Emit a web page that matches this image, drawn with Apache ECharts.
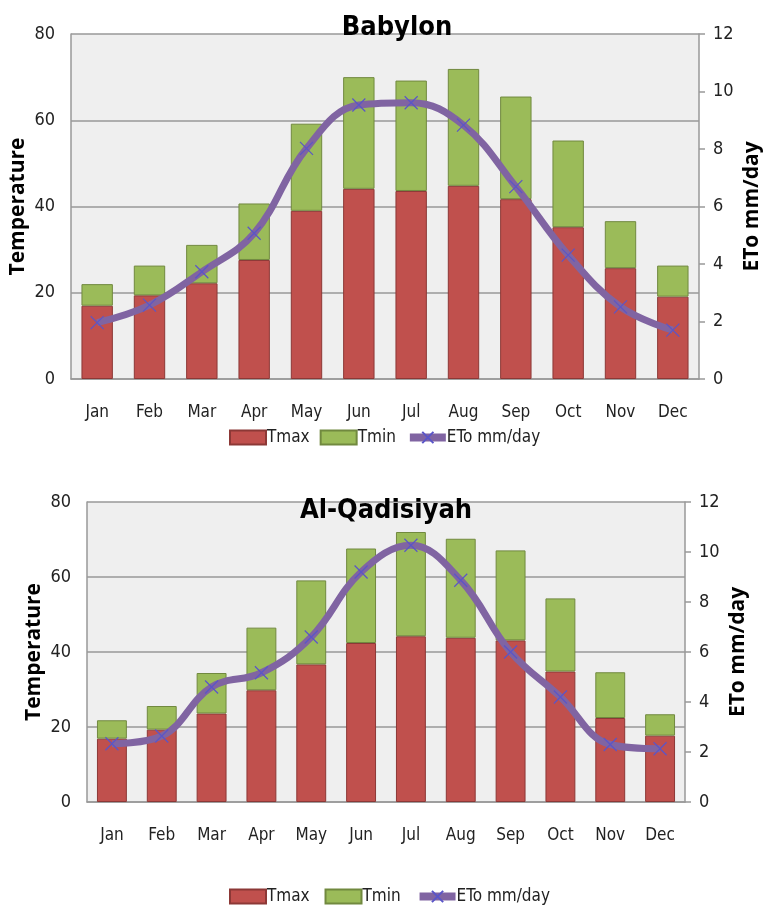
<!DOCTYPE html>
<html><head><meta charset="utf-8">
<script src="https://cdn.jsdelivr.net/npm/echarts@6/dist/echarts.min.js"></script>
<style>html,body{margin:0;padding:0;background:#fff}#c{width:763px;height:907px}</style>
</head><body><div id="c"></div>
<script>
const months = ['Jan','Feb','Mar','Apr','May','Jun','Jul','Aug','Sep','Oct','Nov','Dec'];
const babylonTmax = [17.0,19.4,22.2,27.6,39.0,44.1,43.6,44.8,41.7,35.2,25.7,19.1];
const babylonTmin = [5.0,6.9,8.9,13.1,20.2,25.9,25.6,27.1,23.8,20.1,10.9,7.2];
const babylonETo  = [1.96,2.57,3.73,5.07,8.02,9.53,9.61,8.83,6.69,4.31,2.51,1.70];
const qadTmax = [16.9,19.3,23.6,29.8,36.7,42.4,44.2,43.8,43.1,34.8,22.4,17.7];
const qadTmin = [4.9,6.3,10.8,16.7,22.4,25.2,27.8,26.4,24.0,19.5,12.2,5.7];
const qadETo  = [2.33,2.64,4.6,5.17,6.6,9.2,10.27,8.87,6.0,4.2,2.3,2.13];
const tempTicks = [0,20,40,60,80];
const etoTicks = [0,2,4,6,8,10,12];
const titles = ['Babylon','Al-Qadisiyah'];

const FONT = '"DejaVu Sans Condensed","Liberation Sans Narrow","Liberation Sans",sans-serif';
const RED = '#C0504D', GREEN = '#9BBB59', PURPLE = '#8064A2';
const grids = [
  {left:71, right:64, top:34, height:345, backgroundColor:'#EFEFEF', show:true, borderWidth:0, outerBoundsMode:'none', containLabel:false},
  {left:87, right:78, top:502, height:300, backgroundColor:'#EFEFEF', show:true, borderWidth:0, outerBoundsMode:'none', containLabel:false}
];
const xMark = 'path://M0,0L10,10M10,0L0,10';
const option = {
  animation:false,
  textStyle:{fontFamily:FONT},
  title: [
    {text:titles[0], left:392, top:9, textAlign:'center', textStyle:{fontFamily:FONT,fontSize:27,fontWeight:'bold',color:'#000'}},
    {text:titles[1], left:381, top:492, textAlign:'center', textStyle:{fontFamily:FONT,fontSize:27,fontWeight:'bold',color:'#000'}}
  ],
  legend: [0,1].map(i=>({
    top: i===0 ? 424 : 883, left:224, itemWidth:36, itemHeight:14, itemGap:10,
    textStyle:{fontFamily:FONT,fontSize:17,color:'#222',padding:[0,0,0,-4]},
    data:[
      {name:'Tmax'+(i?' ':''), icon:'rect'},
      {name:'Tmin'+(i?' ':''), icon:'rect'},
      {name:'ETo mm/day'+(i?' ':''), lineStyle:{width:8,color:PURPLE}}
    ]
  })),
  grid: grids,
  xAxis: [0,1].map(i=>({
    type:'category', gridIndex:i, data:months,
    axisLine:{lineStyle:{color:'#999',width:1.5}}, axisTick:{show:false},
    axisLabel:{fontFamily:FONT,fontSize:17,color:'#222',margin:25}
  })),
  yAxis: [0,1].flatMap(i=>[
    {type:'value', gridIndex:i, min:tempTicks[0], max:tempTicks[tempTicks.length-1], interval:20,
     name:'Temperature', nameLocation:'middle', nameGap:42, nameRotate:90, nameMoveOverlap:false,
     nameTextStyle:{fontFamily:'"Open Sans",sans-serif',fontWeight:'bold',fontSize:21,color:'#000'},
     axisLine:{show:true,lineStyle:{color:'#999',width:1.5}}, axisTick:{show:false},
     axisLabel:{fontFamily:FONT,fontSize:18,color:'#222',margin:16},
     splitLine:{lineStyle:{color:'#999',width:1.5}}},
    {type:'value', gridIndex:i, min:etoTicks[0], max:etoTicks[etoTicks.length-1], interval:2, position:'right',
     name:'ETo mm/day', nameLocation:'middle', nameGap:43, nameRotate:90, nameMoveOverlap:false,
     nameTextStyle:{fontFamily:'"Open Sans",sans-serif',fontWeight:'bold',fontSize:21,color:'#000'},
     axisLine:{show:true,lineStyle:{color:'#999',width:1.5}},
     axisTick:{show:true,length:6,lineStyle:{color:'#999',width:1.5}},
     axisLabel:{fontFamily:FONT,fontSize:18,color:'#222',margin:14},
     splitLine:{show:false}}
  ]),
  series: [
    [babylonTmax,babylonTmin,babylonETo],[qadTmax,qadTmin,qadETo]
  ].flatMap((d,i)=>{
    const sfx = i?' ':'';
    return [
      {name:'Tmax'+sfx, type:'bar', stack:'t'+i, xAxisIndex:i, yAxisIndex:i*2, data:d[0], barCategoryGap:'40%',
       itemStyle:{color:RED,borderColor:'#8C3836',borderWidth:1}},
      {name:'Tmin'+sfx, type:'bar', stack:'t'+i, xAxisIndex:i, yAxisIndex:i*2, data:d[1], barCategoryGap:'40%',
       itemStyle:{color:GREEN,borderColor:'#71893F',borderWidth:1}},
      {name:'ETo mm/day'+sfx, type:'line', xAxisIndex:i, yAxisIndex:i*2+1, data:d[2], smooth:0.4,
       lineStyle:{color:PURPLE,width:7}, symbol:xMark, symbolSize:13,
       itemStyle:{color:PURPLE,borderColor:'#5A55C8',borderWidth:1.2}, z:5}
    ];
  })
};
const chart = echarts.init(document.getElementById('c'), null, {renderer:'canvas'});
chart.setOption(option);
</script></body></html>
